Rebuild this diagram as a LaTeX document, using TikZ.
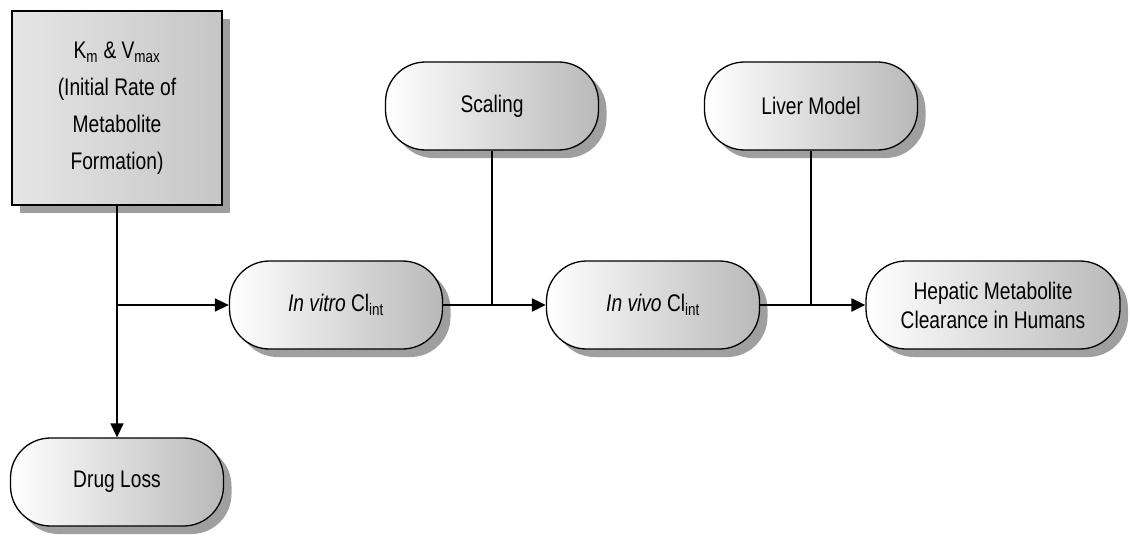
\documentclass[tikz,border=0pt]{standalone}
\usepackage{fontspec}
\setmainfont{Liberation Sans}[FakeStretch=0.8]
\usetikzlibrary{shadows,arrows.meta}
\begin{document}
\begin{tikzpicture}[x=1pt,y=-1pt,
  txt/.style={font=\fontsize{24}{37}\selectfont, align=center, inner sep=0pt},
  pill/.style={txt, draw=black, line width=1.3pt, rounded corners=40pt,
    minimum width=213pt, minimum height=88pt,
    left color=white, middle color=white, right color=gray!55,
    drop shadow={shadow xshift=8pt, shadow yshift=-8pt, fill=gray!75, opacity=1}},
  sqbox/.style={txt, draw=black, line width=1.6pt,
    minimum width=210pt, minimum height=194pt,
    left color=gray!20, right color=gray!45,
    drop shadow={shadow xshift=8pt, shadow yshift=-8pt, fill=gray!75, opacity=1}},
  link/.style={draw=black, line width=1.4pt},
  flow/.style={draw=black, line width=2.2pt, -{Triangle[length=14pt,width=13pt]}},
  branch/.style={draw=black, line width=1.6pt, -{Triangle[length=14pt,width=13pt]}}
]
\useasboundingbox (0,0) rectangle (1130,543);
\node[sqbox] (km) at (117,108) {K\textsubscript{m} \& V\textsubscript{max}\\(Initial Rate of\\Metabolite\\Formation)};
\node[pill] (drug) at (117,482) {Drug Loss};
\node[pill] (vitro) at (336,305) {\textit{In vitro} Cl\textsubscript{int}};
\node[pill] (scal) at (492,106) {Scaling};
\node[pill] (vivo) at (653,305) {\textit{In vivo} Cl\textsubscript{int}};
\node[pill] (liver) at (811,106) {Liver Model};
\node[pill, minimum width=254pt] (hep) at (993,305) {Hepatic Metabolite\\[-8pt]Clearance in Humans};
\coordinate (fork) at (km.south |- vitro.west);
\coordinate (j1) at (scal.south |- vitro.east);
\coordinate (j2) at (liver.south |- vivo.east);
\draw[branch] (km.south) -- (drug.north);
\draw[branch] (fork) -- (vitro.west);
\draw[flow] (vitro.east) -- (vivo.west);
\draw[flow] (vivo.east) -- (hep.west);
\draw[link] (scal.south) -- (j1);
\draw[link] (liver.south) -- (j2);
\end{tikzpicture}
\end{document}
